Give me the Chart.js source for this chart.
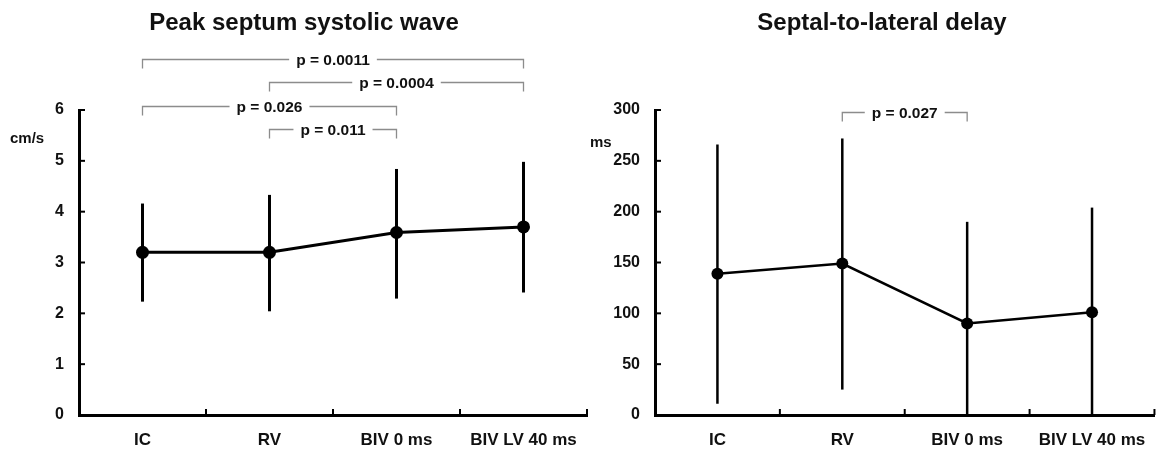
<!DOCTYPE html>
<html><head><meta charset="utf-8">
<script src="https://cdn.jsdelivr.net/npm/chart.js@4.4.0/dist/chart.umd.min.js"></script>
<style>
html,body{margin:0;padding:0;background:#fff;width:1161px;height:450px;overflow:hidden;}
.box{position:absolute;top:0;height:450px;}
#b1{left:0;width:620px;}
#b2{left:585px;width:576px;}
canvas{display:block;}
</style></head><body>
<div class="box" id="b1"><canvas id="c1" width="620" height="450"></canvas></div>
<div class="box" id="b2"><canvas id="c2" width="576" height="450"></canvas></div>
<script>
// ---- data ----
const categories = ['IC', 'RV', 'BIV 0 ms', 'BIV LV 40 ms'];

const septumMean = [3.20, 3.20, 3.59, 3.70];
const septumLow  = [2.23, 2.04, 2.29, 2.41];
const septumHigh = [4.16, 4.33, 4.84, 4.98];
const septumTicks = [0, 1, 2, 3, 4, 5, 6];
const septumPairs = [[0, 3, 'p = 0.0011'], [1, 3, 'p = 0.0004'], [0, 2, 'p = 0.026'], [1, 2, 'p = 0.011']];

const delayMean = [139, 149, 90, 101];
const delayLow  = [11, 25, 0, 0];
const delayHigh = [266, 272, 190, 204];
const delayTicks = [0, 50, 100, 150, 200, 250, 300];
const delayPairs = [[1, 2, 'p = 0.027']];

// ---- drawing ----
const FONT = '"Liberation Sans", Arial, Helvetica, sans-serif';
const INK = '#111';

const annot = {
  id: 'annot',
  beforeDatasetsDraw(chart, args, o) {
    const x = chart.scales.x, y = chart.scales.y, ctx = chart.ctx;
    ctx.save();
    ctx.strokeStyle = '#000';
    ctx.lineWidth = o.errWidth;
    o.low.forEach((lo, i) => {
      const px = x.getPixelForValue(i);
      ctx.beginPath();
      ctx.moveTo(px, y.getPixelForValue(lo));
      ctx.lineTo(px, y.getPixelForValue(o.high[i]));
      ctx.stroke();
    });
    ctx.restore();
  },
  afterDraw(chart, args, o) {
    const ctx = chart.ctx, x = chart.scales.x, y = chart.scales.y, a = chart.chartArea;
    ctx.save();
    // inward tick marks
    ctx.strokeStyle = '#000';
    ctx.lineWidth = 2;
    const n = o.labels.length;
    for (let i = 1; i <= n; i++) {
      const px = a.left + (a.right - a.left) * i / n;
      ctx.beginPath(); ctx.moveTo(px, a.bottom); ctx.lineTo(px, a.bottom - 6); ctx.stroke();
    }
    o.ticks.forEach(v => {
      const py = y.getPixelForValue(v);
      ctx.beginPath(); ctx.moveTo(a.left, py); ctx.lineTo(a.left + 6, py); ctx.stroke();
    });
    // significance brackets
    ctx.font = 'bold 15.5px ' + FONT;
    ctx.textAlign = 'center';
    ctx.textBaseline = 'alphabetic';
    o.pairs.forEach((p, k) => {
      const x1 = x.getPixelForValue(p[0]), x2 = x.getPixelForValue(p[1]);
      const by = o.bracketY[k] + 0.5;
      const mid = (x1 + x2) / 2;
      const tw = ctx.measureText(p[2]).width;
      ctx.strokeStyle = '#8c8c8c';
      ctx.lineWidth = 1.3;
      ctx.beginPath();
      ctx.moveTo(x1, by + 9); ctx.lineTo(x1, by); ctx.lineTo(mid - tw / 2 - 7, by);
      ctx.moveTo(mid + tw / 2 + 7, by); ctx.lineTo(x2, by); ctx.lineTo(x2, by + 9);
      ctx.stroke();
      ctx.fillStyle = INK;
      ctx.fillText(p[2], mid, by + 5.5);
    });
    // title and unit
    ctx.fillStyle = INK;
    ctx.font = 'bold 24px ' + FONT;
    ctx.textAlign = 'center';
    ctx.fillText(o.title, o.titleX, o.titleY);
    ctx.font = 'bold 15px ' + FONT;
    ctx.textAlign = 'left';
    ctx.fillText(o.unit, o.unitX, o.unitY);
    ctx.restore();
  }
};

function makeChart(id, mean, low, high, ticks, pairs, cfg) {
  return new Chart(document.getElementById(id), {
    type: 'line',
    data: {
      labels: categories,
      datasets: [{
        data: mean,
        borderColor: '#000',
        backgroundColor: '#000',
        borderWidth: cfg.lineWidth,
        pointRadius: cfg.pointRadius,
        pointHoverRadius: cfg.pointRadius,
        pointBackgroundColor: '#000',
        pointBorderWidth: 0,
        tension: 0,
        clip: false
      }]
    },
    options: {
      responsive: false,
      animation: false,
      events: [],
      layout: { padding: { top: 110, left: 0, right: cfg.padRight, bottom: 0 } },
      plugins: {
        legend: { display: false },
        title: { display: false },
        tooltip: { enabled: false },
        annot: {
          low: low, high: high, ticks: ticks, pairs: pairs, labels: categories,
          errWidth: cfg.errWidth, bracketY: cfg.bracketY,
          title: cfg.title, titleX: cfg.titleX, titleY: 30,
          unit: cfg.unit, unitX: cfg.unitX, unitY: cfg.unitY
        }
      },
      scales: {
        x: {
          type: 'category',
          offset: true,
          grid: { display: false, drawTicks: false },
          border: { display: true, color: '#000', width: 3 },
          ticks: { color: INK, font: { family: FONT, size: 17, weight: 'bold' }, padding: 15, maxRotation: 0, autoSkip: false },
          afterFit(s) { s.height = 35; }
        },
        y: {
          min: ticks[0],
          max: ticks[ticks.length - 1],
          grid: { display: false, drawTicks: false },
          border: { display: true, color: '#000', width: 3 },
          ticks: { color: INK, font: { family: FONT, size: 16, weight: 'bold' }, padding: 15 },
          afterBuildTicks(s) { s.ticks = ticks.map(v => ({ value: v })); },
          afterFit(s) { s.width = cfg.axisLeft; }
        }
      }
    },
    plugins: [annot]
  });
}

makeChart('c1', septumMean, septumLow, septumHigh, septumTicks, septumPairs, {
  lineWidth: 3, pointRadius: 6.5, errWidth: 3, padRight: 33, axisLeft: 79,
  bracketY: [59, 82, 106, 129],
  title: 'Peak septum systolic wave', titleX: 304,
  unit: 'cm/s', unitX: 10, unitY: 143
});
makeChart('c2', delayMean, delayLow, delayHigh, delayTicks, delayPairs, {
  lineWidth: 2.5, pointRadius: 6, errWidth: 2.5, padRight: 3, axisLeft: 70,
  bracketY: [112],
  title: 'Septal-to-lateral delay', titleX: 297,
  unit: 'ms', unitX: 5, unitY: 147
});
</script>
</body></html>
